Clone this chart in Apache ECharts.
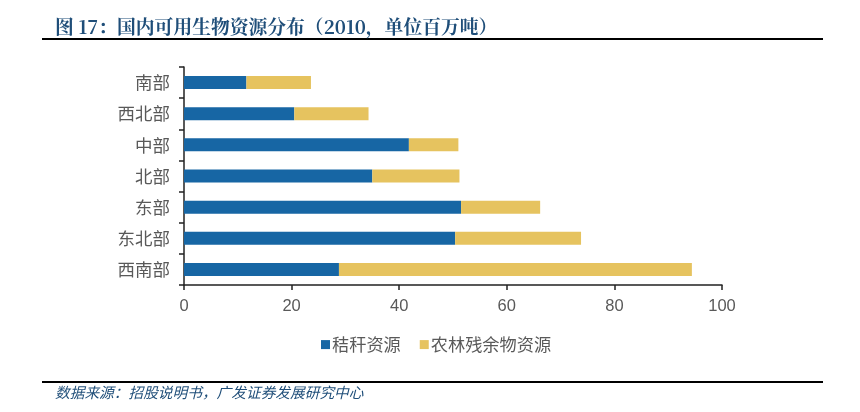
<!DOCTYPE html>
<html><head><meta charset="utf-8">
<style>html,body{margin:0;padding:0;background:#fff}#c{width:860px;height:412px}</style>
<script src="https://cdn.jsdelivr.net/npm/echarts@6/dist/echarts.min.js"></script>
</head><body><div id="c"></div>
<script>
const categories = ['西南部','东北部','东部','北部','中部','西北部','南部'];
const straw = [28.8,50.4,51.5,35,41.8,20.5,11.6];
const residue = [65.6,23.4,14.7,16.2,9.2,13.8,12];
const seriesNames = ['秸秆资源','农林残余物资源'];
const titleText = '图 17\uFF1A国内可用生物资源分布\uFF082010\uFF0C单位百万吨\uFF09';
const sourceText = '数据来源\uFF1A招股说明书\uFF0C广发证券发展研究中心';
const cjk = '"Noto Sans CJK SC","Liberation Sans",sans-serif';
const chart = echarts.init(document.getElementById('c'),null,{renderer:'canvas'});
chart.setOption({
  animation:false,
  backgroundColor:'#fff',
  title:{text:titleText,left:55,top:17,padding:0,textStyle:{fontFamily:'"Noto Serif CJK SC","Noto Sans CJK SC",sans-serif',fontSize:18.8,fontWeight:'bold',color:'#1f4e79'}},
  grid:{left:184,right:138,top:67,bottom:127},
  legend:{data:seriesNames,left:316,top:331,itemWidth:9,itemHeight:9,itemGap:19,icon:'rect',
    textStyle:{fontFamily:cjk,fontSize:17.2,color:'#595959',padding:[0,0,0,-3]}},
  xAxis:{type:'value',min:0,max:100,interval:20,splitLine:{show:false},
    axisLine:{show:true,lineStyle:{color:'#222',width:1.5}},
    axisTick:{show:true,length:5,inside:false,lineStyle:{color:'#222',width:1.5}},
    axisLabel:{fontFamily:'"Liberation Sans",sans-serif',fontSize:16.5,color:'#595959',margin:13}},
  yAxis:{type:'category',data:categories,
    axisLine:{show:true,lineStyle:{color:'#222',width:1.5}},
    axisTick:{show:true,length:5,lineStyle:{color:'#222',width:1.5}},
    axisLabel:{fontFamily:cjk,fontSize:17.5,color:'#595959',margin:14}},
  series:[
    {name:seriesNames[0],type:'bar',stack:'t',data:straw,barWidth:13,itemStyle:{color:'#1766a4'}},
    {name:seriesNames[1],type:'bar',stack:'t',data:residue,barWidth:13,itemStyle:{color:'#e6c35f'}}
  ],
  graphic:[
    {type:'rect',shape:{x:42,y:38,width:781,height:2},style:{fill:'#000'}},
    {type:'rect',shape:{x:42,y:381,width:781,height:2},style:{fill:'#000'}},
    {type:'text',x:55,y:385,style:{text:sourceText,fill:'#1f4e79',font:'italic 14.7px "Noto Sans CJK SC",sans-serif'}}
  ]
});
</script></body></html>
